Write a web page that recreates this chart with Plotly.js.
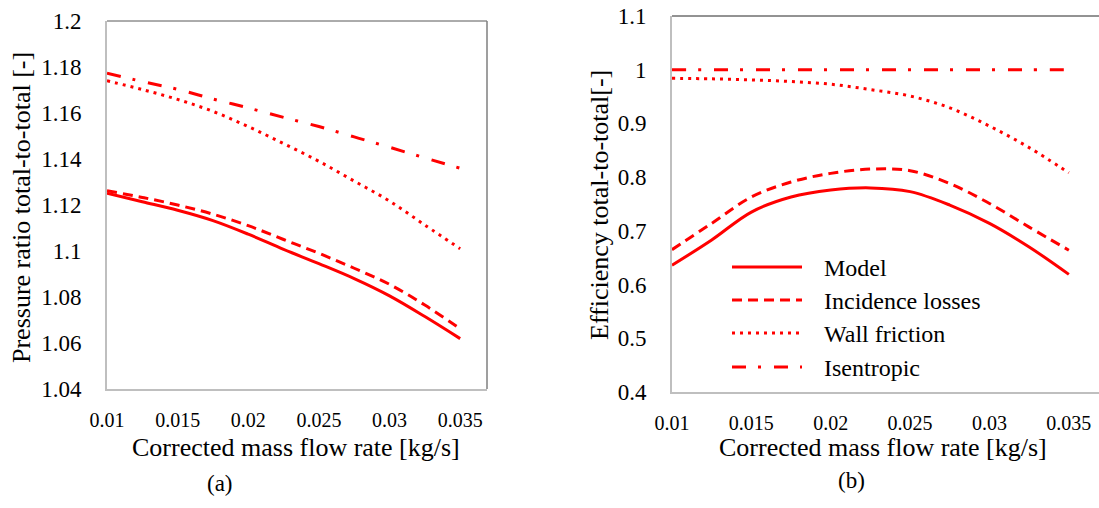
<!DOCTYPE html>
<html>
<head>
<meta charset="utf-8">
<script src="https://cdn.plot.ly/plotly-3.0.1.min.js"></script>
<style>html,body{margin:0;padding:0;background:#fff;}#chart{width:1099px;height:508px;}</style>
</head>
<body>
<div id="chart"></div>
<script>
// ---- data ----
const massFlow = [0.01, 0.0125, 0.015, 0.0175, 0.02, 0.0225, 0.025, 0.0275, 0.03, 0.0325, 0.035];

// (a) pressure ratio total-to-total
const prModel      = [1.1251, 1.1214, 1.1177, 1.1132, 1.1073, 1.1007, 1.0945, 1.0880, 1.0805, 1.0715, 1.0619];
const prIncidence  = [1.1262, 1.1233, 1.1200, 1.1160, 1.1110, 1.1050, 1.0990, 1.0925, 1.0855, 1.0765, 1.0662];
const prWall       = [1.1740, 1.1702, 1.1659, 1.1607, 1.1541, 1.1467, 1.1390, 1.1304, 1.1217, 1.1113, 1.1010];
const prIsentropic = [1.1773, 1.1737, 1.1703, 1.1661, 1.1622, 1.1581, 1.1541, 1.1496, 1.1451, 1.1405, 1.1360];

// (b) efficiency total-to-total
const effModel      = [0.636, 0.683, 0.735, 0.763, 0.776, 0.780, 0.773, 0.748, 0.714, 0.670, 0.619];
const effIncidence  = [0.665, 0.714, 0.763, 0.791, 0.807, 0.815, 0.812, 0.788, 0.751, 0.707, 0.664];
const effWall       = [0.984, 0.983, 0.981, 0.978, 0.973, 0.963, 0.951, 0.929, 0.895, 0.855, 0.808];
const effIsentropic = [1.0, 1.0, 1.0, 1.0, 1.0, 1.0, 1.0, 1.0, 1.0, 1.0, 1.0];

const seriesNames = ["Model", "Incidence losses", "Wall friction", "Isentropic"];
const xTicks = [0.01, 0.015, 0.02, 0.025, 0.03, 0.035];
const xTickText = ["0.01", "0.015", "0.02", "0.025", "0.03", "0.035"];
const prTicks = [1.04, 1.06, 1.08, 1.1, 1.12, 1.14, 1.16, 1.18, 1.2];
const prTickText = ["1.04", "1.06", "1.08", "1.1", "1.12", "1.14", "1.16", "1.18", "1.2"];
const effTicks = [0.4, 0.5, 0.6, 0.7, 0.8, 0.9, 1.0, 1.1];
const effTickText = ["0.4", "0.5", "0.6", "0.7", "0.8", "0.9", "1", "1.1"];

const xTitle = "Corrected mass flow rate [kg/s]";
const yTitleA = "Pressure ratio total-to-total [-]";
const yTitleB = "Efficiency total-to-total[-]";

// ---- styles ----
const RED = "#ff0000";
const FONT = "'Liberation Serif', 'Times New Roman', serif";
const dashes = ["solid", "10px,6px", "3px,5px", "14px,12px,3px,13px"];
const LW = 3;

function mk(y, i, xa, ya) {
  return {
    x: massFlow, y: y, xaxis: xa, yaxis: ya, type: "scatter", mode: "lines",
    name: seriesNames[i], showlegend: false, hoverinfo: "skip",
    line: {color: RED, width: LW, dash: dashes[i], shape: "spline", smoothing: 1}
  };
}

const traces = [
  mk(prModel, 0, "x", "y"), mk(prIncidence, 1, "x", "y"), mk(prWall, 2, "x", "y"), mk(prIsentropic, 3, "x", "y"),
  mk(effModel, 0, "x2", "y2"), mk(effIncidence, 1, "x2", "y2"), mk(effWall, 2, "x2", "y2"), mk(effIsentropic, 3, "x2", "y2")
];

const W = 1099, H = 508;
const px = v => v / W, py = v => 1 - v / H;

const axisCommon = {
  showgrid: false, zeroline: false, showline: true, linecolor: "#bfbfbf", linewidth: 2,
  ticks: "", tickfont: {family: FONT, size: 20, color: "#000"}, fixedrange: true
};

const layout = {
  width: W, height: H,
  margin: {l: 0, r: 0, t: 0, b: 0},
  paper_bgcolor: "#fff", plot_bgcolor: "#fff",
  font: {family: FONT, color: "#000"},
  showlegend: false,
  xaxis: Object.assign({}, axisCommon, {
    domain: [px(107), px(487)], range: [0.01, 0.0369], anchor: "y",
    tickvals: xTicks, ticktext: xTickText, ticklabelstandoff: 12
  }),
  yaxis: Object.assign({}, axisCommon, {
    domain: [py(389), py(21)], range: [1.04, 1.2], anchor: "x",
    tickvals: prTicks, ticktext: prTickText, ticklabelstandoff: 19,
    tickfont: {family: FONT, size: 23, color: "#000"}
  }),
  xaxis2: Object.assign({}, axisCommon, {
    domain: [px(672), 1], range: [0.01, 0.0369], anchor: "y2",
    tickvals: xTicks, ticktext: xTickText, ticklabelstandoff: 12
  }),
  yaxis2: Object.assign({}, axisCommon, {
    domain: [py(392), py(16)], range: [0.4, 1.1], anchor: "x2",
    tickvals: effTicks, ticktext: effTickText, ticklabelstandoff: 19,
    tickfont: {family: FONT, size: 23, color: "#000"}
  }),
  shapes: [
    {type: "line", xref: "x domain", yref: "y domain", x0: 0, x1: 1, y0: 1, y1: 1, line: {color: "#595959", width: 1}},
    {type: "line", xref: "x domain", yref: "y domain", x0: 1, x1: 1, y0: 0, y1: 1, line: {color: "#7f7f7f", width: 1.5}},
    {type: "line", xref: "x2 domain", yref: "y2 domain", x0: 0, x1: 1, y0: 1, y1: 1, line: {color: "#262626", width: 1}}
  ],
  annotations: [
    {text: xTitle, xref: "paper", yref: "paper", x: px(296), y: py(447), xanchor: "center", yanchor: "middle", showarrow: false, font: {family: FONT, size: 26, color: "#000"}},
    {text: xTitle, xref: "paper", yref: "paper", x: px(883), y: py(447), xanchor: "center", yanchor: "middle", showarrow: false, font: {family: FONT, size: 26, color: "#000"}},
    {text: yTitleA, xref: "paper", yref: "paper", x: px(22), y: py(208), xanchor: "center", yanchor: "middle", textangle: -90, showarrow: false, font: {family: FONT, size: 26, color: "#000"}},
    {text: yTitleB, xref: "paper", yref: "paper", x: px(600), y: py(205), xanchor: "center", yanchor: "middle", textangle: -90, showarrow: false, font: {family: FONT, size: 26, color: "#000"}},
    {text: "(a)", xref: "paper", yref: "paper", x: px(220), y: py(483), xanchor: "center", yanchor: "middle", showarrow: false, font: {family: FONT, size: 23, color: "#000"}},
    {text: "(b)", xref: "paper", yref: "paper", x: px(851), y: py(480), xanchor: "center", yanchor: "middle", showarrow: false, font: {family: FONT, size: 23, color: "#000"}}
  ]
};

// legend (drawn in panel b)
const legY = [267, 300, 333, 367];
seriesNames.forEach((n, i) => {
  layout.shapes.push({type: "line", xref: "paper", yref: "paper", x0: px(732), x1: px(802), y0: py(legY[i]), y1: py(legY[i]),
    line: {color: RED, width: LW, dash: dashes[i]}});
  layout.annotations.push({text: n, xref: "paper", yref: "paper", x: px(822), y: py(legY[i] + 1), xanchor: "left", yanchor: "middle",
    showarrow: false, font: {family: FONT, size: 24, color: "#000"}});
});

Plotly.newPlot("chart", traces, layout, {staticPlot: true, displayModeBar: false});
</script>
</body>
</html>
